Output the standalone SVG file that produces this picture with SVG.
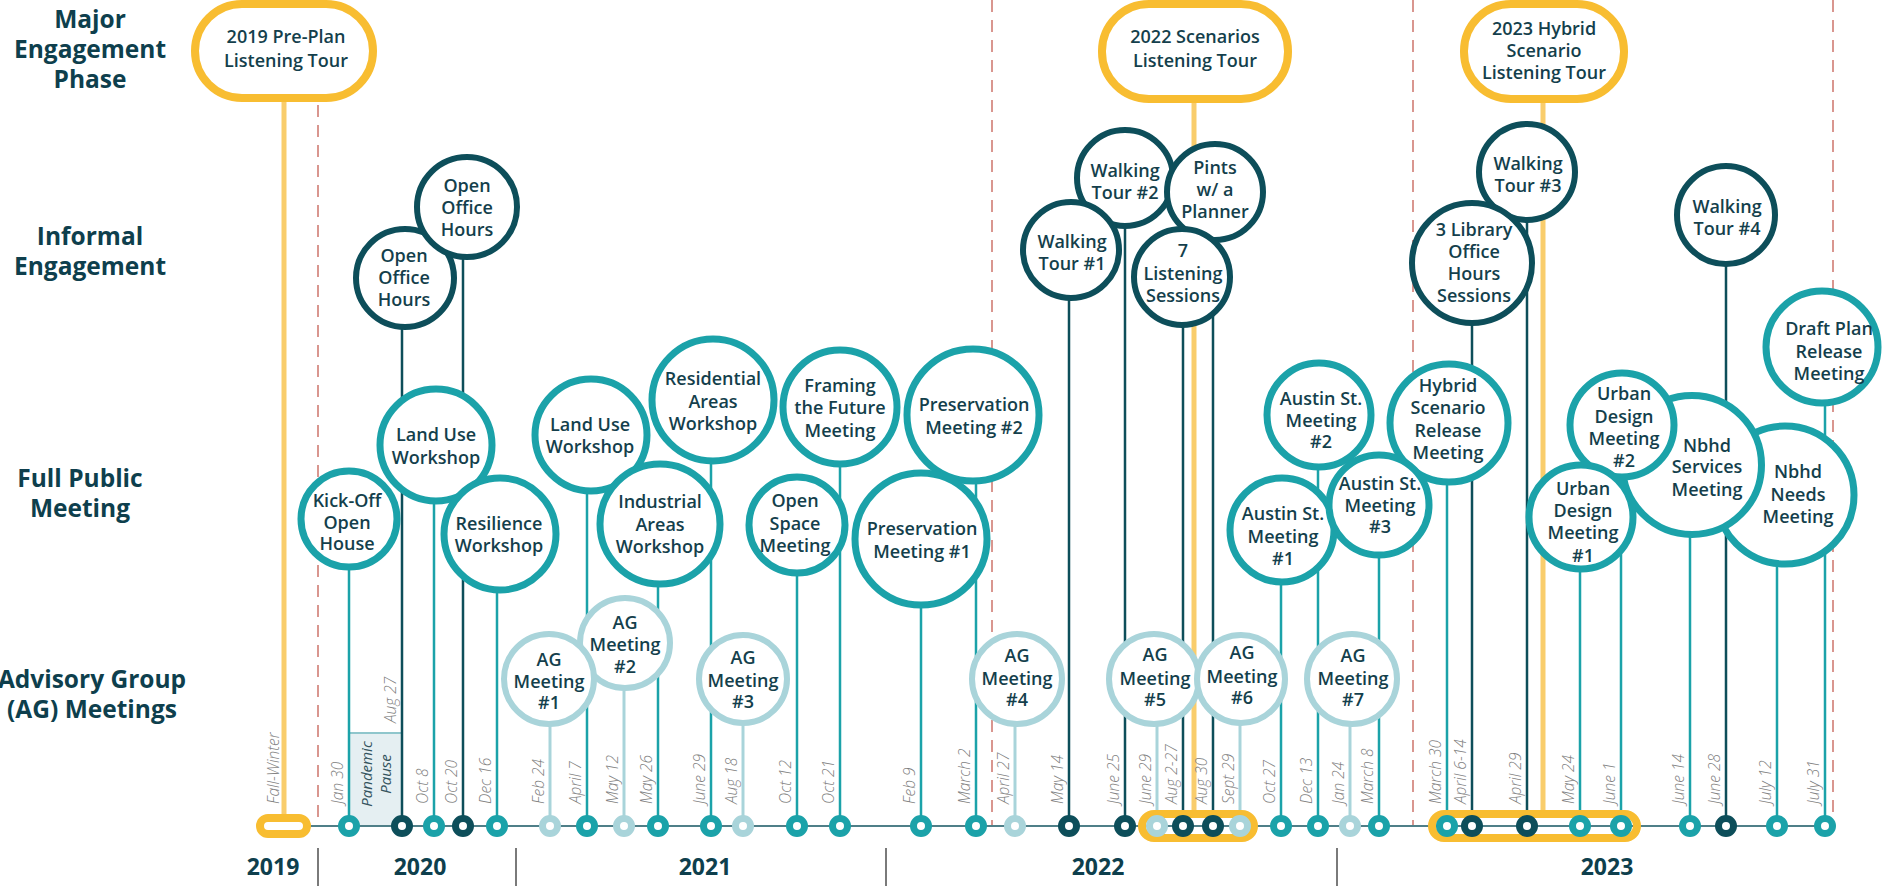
<svg xmlns="http://www.w3.org/2000/svg" width="1883" height="886" viewBox="0 0 1883 886">
<style>
text{font-family:"Open Sans","Liberation Sans",sans-serif}
.cat{font-weight:700;font-size:24.5px;fill:#0e3f4d;text-anchor:middle}
.yr{font-weight:700;font-size:23px;fill:#0e3f4d;text-anchor:middle}
.nt{font-weight:600;font-size:18px;fill:#143f4c;text-anchor:middle}
.dt{font-style:italic;font-weight:300;font-size:15.5px;fill:#7f7f7f}
.pp{font-style:italic;font-weight:400;font-size:15px;fill:#34545e;text-anchor:middle}
.dash{stroke:#d9968f;stroke-width:2;stroke-dasharray:12 8;fill:none}
.ydiv{stroke:#7a7a7a;stroke-width:2}
.pub circle{fill:#fff;stroke:#1ba2a9;stroke-width:7}
.inf circle{fill:#fff;stroke:#0d4e5a;stroke-width:6}
.ag circle{fill:#fff;stroke:#a9d4da;stroke-width:6}
.cap{fill:#fff;stroke:#f8bd31;stroke-width:8}
.capo{fill:none;stroke:#f8bd31;stroke-width:8}
.lp{stroke:#1ba2a9;stroke-width:2.5}
.li{stroke:#0d4e5a;stroke-width:2.5}
.la{stroke:#a9d4da;stroke-width:3}
.ly{stroke:#f9cd6c;stroke-width:5}
.dp{fill:#fff;stroke:#1ba2a9;stroke-width:7}
.di{fill:#fff;stroke:#0d4e5a;stroke-width:7}
.da{fill:#fff;stroke:#a9d4da;stroke-width:7}
</style>

<g id="guides">
<line class="dash" x1="318" y1="105" x2="318" y2="826"/>
<line class="dash" x1="992" y1="0" x2="992" y2="826"/>
<line class="dash" x1="1413" y1="0" x2="1413" y2="826"/>
<line class="dash" x1="1833" y1="0" x2="1833" y2="826"/>
<line class="ydiv" x1="318" y1="848" x2="318" y2="886"/>
<line class="ydiv" x1="516" y1="848" x2="516" y2="886"/>
<line class="ydiv" x1="886" y1="848" x2="886" y2="886"/>
<line class="ydiv" x1="1337" y1="848" x2="1337" y2="886"/>
</g>

<g id="categories">
<text class="cat"><tspan x="90" y="28">Major</tspan><tspan x="90" y="58">Engagement</tspan><tspan x="90" y="88">Phase</tspan></text>
<text class="cat"><tspan x="90" y="245">Informal</tspan><tspan x="90" y="275">Engagement</tspan></text>
<text class="cat"><tspan x="80" y="487">Full Public</tspan><tspan x="80" y="517">Meeting</tspan></text>
<text class="cat"><tspan x="92" y="688">Advisory Group</tspan><tspan x="92" y="718">(AG) Meetings</tspan></text>
</g>

<g id="years">
<text class="yr" x="273" y="875">2019</text>
<text class="yr" x="420" y="875">2020</text>
<text class="yr" x="705" y="875">2021</text>
<text class="yr" x="1098" y="875">2022</text>
<text class="yr" x="1607" y="875">2023</text>
</g>

<g id="pandemic-pause">
<rect x="350" y="733" width="52" height="93" fill="#e5eff2"/>
<line x1="350" y1="733" x2="402" y2="733" stroke="#8fc6cc" stroke-width="2"/>
<text class="pp" transform="translate(372,774) rotate(-90)">Pandemic</text>
<text class="pp" transform="translate(391,774) rotate(-90)">Pause</text>
</g>

<g id="connectors">
<line class="ly" x1="284" y1="98" x2="284" y2="818"/>
<line class="ly" x1="1194" y1="98" x2="1194" y2="812"/>
<line class="ly" x1="1543" y1="98" x2="1543" y2="812"/>
<line class="li" x1="402" y1="278" x2="402" y2="826"/>
<line class="li" x1="463" y1="207" x2="463" y2="826"/>
<line class="li" x1="1069" y1="250" x2="1069" y2="826"/>
<line class="li" x1="1125" y1="178" x2="1125" y2="826"/>
<line class="li" x1="1213" y1="192" x2="1213" y2="826"/>
<line class="li" x1="1183" y1="277" x2="1183" y2="826"/>
<line class="li" x1="1472" y1="263" x2="1472" y2="826"/>
<line class="li" x1="1527" y1="172" x2="1527" y2="826"/>
<line class="li" x1="1726" y1="215" x2="1726" y2="826"/>
<line class="lp" x1="349" y1="519" x2="349" y2="826"/>
<line class="lp" x1="434" y1="445" x2="434" y2="826"/>
<line class="lp" x1="497" y1="534" x2="497" y2="826"/>
<line class="lp" x1="587" y1="435" x2="587" y2="826"/>
<line class="lp" x1="658" y1="524" x2="658" y2="826"/>
<line class="lp" x1="711" y1="400" x2="711" y2="826"/>
<line class="lp" x1="797" y1="525" x2="797" y2="826"/>
<line class="lp" x1="840" y1="407" x2="840" y2="826"/>
<line class="lp" x1="921" y1="539" x2="921" y2="826"/>
<line class="lp" x1="976" y1="415" x2="976" y2="826"/>
<line class="lp" x1="1281" y1="530" x2="1281" y2="826"/>
<line class="lp" x1="1318" y1="415" x2="1318" y2="826"/>
<line class="lp" x1="1379" y1="505" x2="1379" y2="826"/>
<line class="lp" x1="1447" y1="423" x2="1447" y2="826"/>
<line class="lp" x1="1580" y1="517" x2="1580" y2="826"/>
<line class="lp" x1="1621" y1="425" x2="1621" y2="826"/>
<line class="lp" x1="1690" y1="465" x2="1690" y2="826"/>
<line class="lp" x1="1777" y1="495" x2="1777" y2="826"/>
<line class="lp" x1="1825" y1="347" x2="1825" y2="826"/>
<line class="la" x1="550" y1="679" x2="550" y2="826"/>
<line class="la" x1="624" y1="643" x2="624" y2="826"/>
<line class="la" x1="743" y1="679" x2="743" y2="826"/>
<line class="la" x1="1015" y1="679" x2="1015" y2="826"/>
<line class="la" x1="1157" y1="679" x2="1157" y2="826"/>
<line class="la" x1="1240" y1="679" x2="1240" y2="826"/>
<line class="la" x1="1350" y1="679" x2="1350" y2="826"/>
<line x1="310" y1="826" x2="1825" y2="826" stroke="#4f7f88" stroke-width="2"/>
<rect class="cap" x="260" y="818" width="47" height="16" rx="8"/>
<rect class="capo" x="1142" y="814" width="112" height="24" rx="12"/>
<rect class="capo" x="1432" y="814" width="205" height="24" rx="12"/>
<circle class="dp" cx="349" cy="826" r="7.5"/>
<circle class="di" cx="402" cy="826" r="7.5"/>
<circle class="dp" cx="434" cy="826" r="7.5"/>
<circle class="di" cx="463" cy="826" r="7.5"/>
<circle class="dp" cx="497" cy="826" r="7.5"/>
<circle class="da" cx="550" cy="826" r="7.5"/>
<circle class="dp" cx="587" cy="826" r="7.5"/>
<circle class="da" cx="624" cy="826" r="7.5"/>
<circle class="dp" cx="658" cy="826" r="7.5"/>
<circle class="dp" cx="711" cy="826" r="7.5"/>
<circle class="da" cx="743" cy="826" r="7.5"/>
<circle class="dp" cx="797" cy="826" r="7.5"/>
<circle class="dp" cx="840" cy="826" r="7.5"/>
<circle class="dp" cx="921" cy="826" r="7.5"/>
<circle class="dp" cx="976" cy="826" r="7.5"/>
<circle class="da" cx="1015" cy="826" r="7.5"/>
<circle class="di" cx="1069" cy="826" r="7.5"/>
<circle class="di" cx="1125" cy="826" r="7.5"/>
<circle class="da" cx="1157" cy="826" r="7.5"/>
<circle class="di" cx="1183" cy="826" r="7.5"/>
<circle class="di" cx="1213" cy="826" r="7.5"/>
<circle class="da" cx="1240" cy="826" r="7.5"/>
<circle class="dp" cx="1281" cy="826" r="7.5"/>
<circle class="dp" cx="1318" cy="826" r="7.5"/>
<circle class="da" cx="1350" cy="826" r="7.5"/>
<circle class="dp" cx="1379" cy="826" r="7.5"/>
<circle class="dp" cx="1447" cy="826" r="7.5"/>
<circle class="di" cx="1472" cy="826" r="7.5"/>
<circle class="di" cx="1527" cy="826" r="7.5"/>
<circle class="dp" cx="1580" cy="826" r="7.5"/>
<circle class="dp" cx="1621" cy="826" r="7.5"/>
<circle class="dp" cx="1690" cy="826" r="7.5"/>
<circle class="di" cx="1726" cy="826" r="7.5"/>
<circle class="dp" cx="1777" cy="826" r="7.5"/>
<circle class="dp" cx="1825" cy="826" r="7.5"/>
</g>

<g id="dates">
<text class="dt" transform="translate(279,804) rotate(-90)">Fall-Winter</text>
<text class="dt" transform="translate(343,804) rotate(-90)">Jan 30</text>
<text class="dt" transform="translate(396,723) rotate(-90)">Aug 27</text>
<text class="dt" transform="translate(428,804) rotate(-90)">Oct 8</text>
<text class="dt" transform="translate(457,804) rotate(-90)">Oct 20</text>
<text class="dt" transform="translate(491,804) rotate(-90)">Dec 16</text>
<text class="dt" transform="translate(544,804) rotate(-90)">Feb 24</text>
<text class="dt" transform="translate(581,804) rotate(-90)">April 7</text>
<text class="dt" transform="translate(618,804) rotate(-90)">May 12</text>
<text class="dt" transform="translate(652,804) rotate(-90)">May 26</text>
<text class="dt" transform="translate(705,804) rotate(-90)">June 29</text>
<text class="dt" transform="translate(737,804) rotate(-90)">Aug 18</text>
<text class="dt" transform="translate(791,804) rotate(-90)">Oct 12</text>
<text class="dt" transform="translate(834,804) rotate(-90)">Oct 21</text>
<text class="dt" transform="translate(915,804) rotate(-90)">Feb 9</text>
<text class="dt" transform="translate(970,804) rotate(-90)">March 2</text>
<text class="dt" transform="translate(1009,804) rotate(-90)">April 27</text>
<text class="dt" transform="translate(1063,804) rotate(-90)">May 14</text>
<text class="dt" transform="translate(1119,804) rotate(-90)">June 25</text>
<text class="dt" transform="translate(1151,804) rotate(-90)">June 29</text>
<text class="dt" transform="translate(1177,804) rotate(-90)">Aug 2-27</text>
<text class="dt" transform="translate(1207,804) rotate(-90)">Aug 30</text>
<text class="dt" transform="translate(1234,804) rotate(-90)">Sept 29</text>
<text class="dt" transform="translate(1275,804) rotate(-90)">Oct 27</text>
<text class="dt" transform="translate(1312,804) rotate(-90)">Dec 13</text>
<text class="dt" transform="translate(1344,804) rotate(-90)">Jan 24</text>
<text class="dt" transform="translate(1373,804) rotate(-90)">March 8</text>
<text class="dt" transform="translate(1441,804) rotate(-90)">March 30</text>
<text class="dt" transform="translate(1466,804) rotate(-90)">April 6-14</text>
<text class="dt" transform="translate(1521,804) rotate(-90)">April 29</text>
<text class="dt" transform="translate(1574,804) rotate(-90)">May 24</text>
<text class="dt" transform="translate(1615,804) rotate(-90)">June 1</text>
<text class="dt" transform="translate(1684,804) rotate(-90)">June 14</text>
<text class="dt" transform="translate(1720,804) rotate(-90)">June 28</text>
<text class="dt" transform="translate(1771,804) rotate(-90)">July 12</text>
<text class="dt" transform="translate(1819,804) rotate(-90)">July 31</text>
</g>

<g id="n-ooh1" class="inf"><circle cx="405" cy="278" r="49"/><text class="nt"><tspan x="404" y="262">Open</tspan><tspan x="404" y="284">Office</tspan><tspan x="404" y="306">Hours</tspan></text></g>
<g id="n-ooh2" class="inf"><circle cx="467" cy="207" r="50"/><text class="nt"><tspan x="467" y="192">Open</tspan><tspan x="467" y="214">Office</tspan><tspan x="467" y="236">Hours</tspan></text></g>
<g id="n-wt2" class="inf"><circle cx="1125" cy="178" r="48"/><text class="nt"><tspan x="1125" y="177">Walking</tspan><tspan x="1125" y="199">Tour #2</tspan></text></g>
<g id="n-pints" class="inf"><circle cx="1215" cy="192" r="48"/><text class="nt"><tspan x="1215" y="174">Pints</tspan><tspan x="1215" y="196">w/ a</tspan><tspan x="1215" y="218">Planner</tspan></text></g>
<g id="n-wt1" class="inf"><circle cx="1071" cy="250" r="48"/><text class="nt"><tspan x="1072" y="248">Walking</tspan><tspan x="1072" y="270">Tour #1</tspan></text></g>
<g id="n-7ls" class="inf"><circle cx="1182" cy="277" r="48"/><text class="nt"><tspan x="1183" y="257">7</tspan><tspan x="1183" y="280">Listening</tspan><tspan x="1183" y="302">Sessions</tspan></text></g>
<g id="n-wt3" class="inf"><circle cx="1527" cy="172" r="48"/><text class="nt"><tspan x="1528" y="170">Walking</tspan><tspan x="1528" y="192">Tour #3</tspan></text></g>
<g id="n-3lib" class="inf"><circle cx="1472" cy="263" r="60"/><text class="nt"><tspan x="1474" y="236">3 Library</tspan><tspan x="1474" y="258">Office</tspan><tspan x="1474" y="280">Hours</tspan><tspan x="1474" y="302">Sessions</tspan></text></g>
<g id="n-wt4" class="inf"><circle cx="1726" cy="215" r="49"/><text class="nt"><tspan x="1727" y="213">Walking</tspan><tspan x="1727" y="235">Tour #4</tspan></text></g>

<g id="n-kickoff" class="pub"><circle cx="349" cy="519" r="48"/><text class="nt"><tspan x="347" y="507">Kick-Off</tspan><tspan x="347" y="529">Open</tspan><tspan x="347" y="550">House</tspan></text></g>
<g id="n-landuse2020" class="pub"><circle cx="436" cy="445" r="56"/><text class="nt"><tspan x="436" y="441">Land Use</tspan><tspan x="436" y="464">Workshop</tspan></text></g>
<g id="n-resilience" class="pub"><circle cx="500" cy="534" r="56"/><text class="nt"><tspan x="499" y="530">Resilience</tspan><tspan x="499" y="552">Workshop</tspan></text></g>
<g id="n-landuse2021" class="pub"><circle cx="591" cy="435" r="56"/><text class="nt"><tspan x="590" y="431">Land Use</tspan><tspan x="590" y="453">Workshop</tspan></text></g>
<g id="n-residential" class="pub"><circle cx="713" cy="400" r="61"/><text class="nt"><tspan x="713" y="385">Residential</tspan><tspan x="713" y="408">Areas</tspan><tspan x="713" y="430">Workshop</tspan></text></g>
<g id="n-industrial" class="pub"><circle cx="660" cy="524" r="60"/><text class="nt"><tspan x="660" y="508">Industrial</tspan><tspan x="660" y="531">Areas</tspan><tspan x="660" y="553">Workshop</tspan></text></g>
<g id="n-openspace" class="pub"><circle cx="797" cy="525" r="48"/><text class="nt"><tspan x="795" y="507">Open</tspan><tspan x="795" y="530">Space</tspan><tspan x="795" y="552">Meeting</tspan></text></g>
<g id="n-framing" class="pub"><circle cx="840" cy="407" r="57"/><text class="nt"><tspan x="840" y="392">Framing</tspan><tspan x="840" y="414">the Future</tspan><tspan x="840" y="437">Meeting</tspan></text></g>
<g id="n-pres2" class="pub"><circle cx="973" cy="415" r="66"/><text class="nt"><tspan x="974" y="411">Preservation</tspan><tspan x="974" y="434">Meeting #2</tspan></text></g>
<g id="n-pres1" class="pub"><circle cx="921" cy="539" r="66"/><text class="nt"><tspan x="922" y="535">Preservation</tspan><tspan x="922" y="558">Meeting #1</tspan></text></g>
<g id="n-austin2" class="pub"><circle cx="1319" cy="415" r="52"/><text class="nt"><tspan x="1321" y="405">Austin St.</tspan><tspan x="1321" y="427">Meeting</tspan><tspan x="1321" y="448">#2</tspan></text></g>
<g id="n-austin1" class="pub"><circle cx="1282" cy="530" r="52"/><text class="nt"><tspan x="1283" y="520">Austin St.</tspan><tspan x="1283" y="543">Meeting</tspan><tspan x="1283" y="565">#1</tspan></text></g>
<g id="n-hybrid" class="pub"><circle cx="1449" cy="423" r="59"/><text class="nt"><tspan x="1448" y="392">Hybrid</tspan><tspan x="1448" y="414">Scenario</tspan><tspan x="1448" y="437">Release</tspan><tspan x="1448" y="459">Meeting</tspan></text></g>
<g id="n-austin3" class="pub"><circle cx="1379" cy="505" r="50"/><text class="nt"><tspan x="1380" y="490">Austin St.</tspan><tspan x="1380" y="512">Meeting</tspan><tspan x="1380" y="533">#3</tspan></text></g>
<g id="n-needs" class="pub"><circle cx="1785" cy="495" r="69"/><text class="nt"><tspan x="1798" y="478">Nbhd</tspan><tspan x="1798" y="501">Needs</tspan><tspan x="1798" y="523">Meeting</tspan></text></g>
<g id="n-services" class="pub"><circle cx="1692" cy="465" r="69.5"/><text class="nt"><tspan x="1707" y="452">Nbhd</tspan><tspan x="1707" y="473">Services</tspan><tspan x="1707" y="496">Meeting</tspan></text></g>
<g id="n-ud2" class="pub"><circle cx="1622" cy="425" r="52"/><text class="nt"><tspan x="1624" y="400">Urban</tspan><tspan x="1624" y="423">Design</tspan><tspan x="1624" y="445">Meeting</tspan><tspan x="1624" y="467">#2</tspan></text></g>
<g id="n-ud1" class="pub"><circle cx="1581" cy="517" r="52"/><text class="nt"><tspan x="1583" y="495">Urban</tspan><tspan x="1583" y="517">Design</tspan><tspan x="1583" y="539">Meeting</tspan><tspan x="1583" y="562">#1</tspan></text></g>
<g id="n-draft" class="pub"><circle cx="1822" cy="347" r="56"/><text class="nt"><tspan x="1829" y="335">Draft Plan</tspan><tspan x="1829" y="358">Release</tspan><tspan x="1829" y="380">Meeting</tspan></text></g>

<g id="n-ag2" class="ag"><circle cx="625" cy="643" r="45"/><text class="nt"><tspan x="625" y="629">AG</tspan><tspan x="625" y="651">Meeting</tspan><tspan x="625" y="673">#2</tspan></text></g>
<g id="n-ag1" class="ag"><circle cx="549" cy="679" r="45"/><text class="nt"><tspan x="549" y="666">AG</tspan><tspan x="549" y="688">Meeting</tspan><tspan x="549" y="709">#1</tspan></text></g>
<g id="n-ag3" class="ag"><circle cx="743" cy="679" r="44"/><text class="nt"><tspan x="743" y="664">AG</tspan><tspan x="743" y="687">Meeting</tspan><tspan x="743" y="708">#3</tspan></text></g>
<g id="n-ag4" class="ag"><circle cx="1017" cy="679" r="45"/><text class="nt"><tspan x="1017" y="662">AG</tspan><tspan x="1017" y="685">Meeting</tspan><tspan x="1017" y="706">#4</tspan></text></g>
<g id="n-ag5" class="ag"><circle cx="1154" cy="679" r="45"/><text class="nt"><tspan x="1155" y="661">AG</tspan><tspan x="1155" y="685">Meeting</tspan><tspan x="1155" y="706">#5</tspan></text></g>
<g id="n-ag6" class="ag"><circle cx="1241" cy="679" r="44"/><text class="nt"><tspan x="1242" y="659">AG</tspan><tspan x="1242" y="683">Meeting</tspan><tspan x="1242" y="704">#6</tspan></text></g>
<g id="n-ag7" class="ag"><circle cx="1352" cy="679" r="45"/><text class="nt"><tspan x="1353" y="662">AG</tspan><tspan x="1353" y="685">Meeting</tspan><tspan x="1353" y="706">#7</tspan></text></g>

<g id="n-tour2019"><rect class="cap" x="195" y="4" width="178" height="94" rx="47"/><text class="nt"><tspan x="286" y="43">2019 Pre-Plan</tspan><tspan x="286" y="67">Listening Tour</tspan></text></g>
<g id="n-tour2022"><rect class="cap" x="1102" y="4" width="186" height="95" rx="47"/><text class="nt"><tspan x="1195" y="43">2022 Scenarios</tspan><tspan x="1195" y="67">Listening Tour</tspan></text></g>
<g id="n-tour2023"><rect class="cap" x="1464" y="4" width="160" height="95" rx="47"/><text class="nt"><tspan x="1544" y="35">2023 Hybrid</tspan><tspan x="1544" y="57">Scenario</tspan><tspan x="1544" y="79">Listening Tour</tspan></text></g>
</svg>
